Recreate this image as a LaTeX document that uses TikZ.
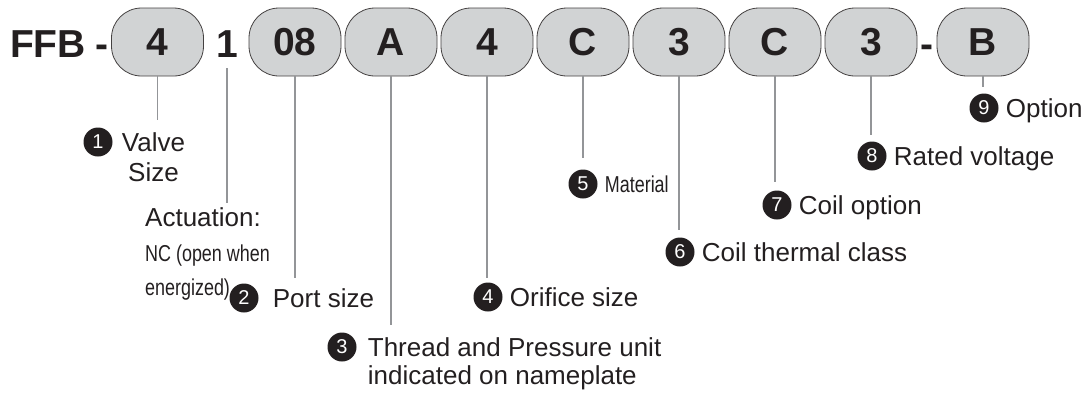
\documentclass[tikz,border=0pt]{standalone}
\usepackage{fontspec}
\setmainfont{Liberation Sans}
\newfontfamily\narrowfont[FakeStretch=0.78]{Liberation Sans}
\usetikzlibrary{positioning}

\definecolor{boxgray}{HTML}{D1D3D4}
\definecolor{leadgray}{HTML}{939598}
\definecolor{ink}{HTML}{231F20}

\tikzset{
    codebox/.style={draw=ink!85, line width=0.8pt, fill=boxgray, rounded corners=30pt,
        minimum width=92pt, minimum height=68pt, inner sep=0pt, text=ink,
        font=\fontsize{39}{39}\selectfont\bfseries},
    codetext/.style={anchor=base, inner sep=0pt, text=ink,
        font=\fontsize{39}{39}\selectfont\bfseries},
    lead/.style={draw=leadgray, line width=1.6pt},
    badge/.style={circle, fill=ink, text=white, minimum size=29pt, inner sep=0pt,
        font=\fontsize{20}{20}\selectfont},
    lbl/.style={inner sep=0pt, text=ink, text height=19pt, text depth=0pt,
        font=\fontsize{26}{26}\selectfont},
    narrowlbl/.style={inner sep=0pt, text=ink, text height=17pt, text depth=0pt,
        font=\narrowfont\fontsize{23}{23}\selectfont},
}

\begin{document}
\begin{tikzpicture}[x=1pt,y=-1pt]
    \useasboundingbox (0,0) rectangle (1087,392);

    % code string
    \node [codetext] (ffb) at (48,57) {FFB};
    \node [codetext] (dashA) at (102,57) {-};
    \node [codebox] (size) at (157.5,42) {4};
    \node [codetext] (act) at (227,57) {1};
    \node [codebox] (port) at (295,42) {08};
    \node [codebox] (thread) at (391,42) {A};
    \node [codebox] (orifice) at (487,42) {4};
    \node [codebox] (material) at (583,42) {C};
    \node [codebox] (thermal) at (679,42) {3};
    \node [codebox] (coilopt) at (775,42) {C};
    \node [codebox] (voltage) at (871,42) {3};
    \node [codetext] (dashB) at (927,57) {-};
    \node [codebox] (option) at (983,42) {B};

    % labels
    \node [badge] (n1) at (98,142) {1};
    \node [lbl, right=9pt of n1] (t1) {Valve};
    \node [lbl, below=11pt of t1] (t1b) {Size};

    \node [lbl, anchor=west] (actlbl) at (145,217) {Actuation:};
    \node [narrowlbl, anchor=west] (actnc) at (145,253) {NC (open when};
    \node [narrowlbl, anchor=west] (acten) at (145,287) {energized)};

    \node [badge] (n2) at (244,298) {2};
    \node [lbl, right=14pt of n2] (t2) {Port size};

    \node [badge] (n3) at (342,347) {3};
    \node [lbl, right=11pt of n3] (t3) {Thread and Pressure unit};
    \node [lbl, below=9pt of t3.south west, anchor=north west] (t3b) {indicated on nameplate};

    \node [badge] (n4) at (488,297) {4};
    \node [lbl, right=7pt of n4] (t4) {Orifice size};

    \node [badge] (n5) at (583,184) {5};
    \node [narrowlbl, right=7pt of n5] (t5) {Material};

    \node [badge] (n6) at (680,252) {6};
    \node [lbl, right=7pt of n6] (t6) {Coil thermal class};

    \node [badge] (n7) at (777,205) {7};
    \node [lbl, right=7pt of n7] (t7) {Coil option};

    \node [badge] (n8) at (872,156) {8};
    \node [lbl, right=7pt of n8] (t8) {Rated voltage};

    \node [badge] (n9) at (984,108) {9};
    \node [lbl, right=7pt of n9] (t9) {Option};

    % leader lines
    \coordinate (e1) at (157.5,120);
    \coordinate (eact) at (227,203);
    \coordinate (e2) at (295,278);
    \coordinate (e3) at (391,325);
    \coordinate (e4) at (487,278);
    \coordinate (e5) at (583,158);
    \coordinate (e6) at (679,230);
    \coordinate (e7) at (775,182);
    \coordinate (e8) at (871,135);
    \coordinate (e9) at (983,87);

    \draw [lead] (size.south) -- (e1);
    \draw [lead, shorten <=11pt] (act.south) -- (eact);
    \draw [lead] (port.south) -- (e2);
    \draw [lead] (thread.south) -- (e3);
    \draw [lead] (orifice.south) -- (e4);
    \draw [lead] (material.south) -- (e5);
    \draw [lead] (thermal.south) -- (e6);
    \draw [lead] (coilopt.south) -- (e7);
    \draw [lead] (voltage.south) -- (e8);
    \draw [lead] (option.south) -- (e9);
\end{tikzpicture}
\end{document}
